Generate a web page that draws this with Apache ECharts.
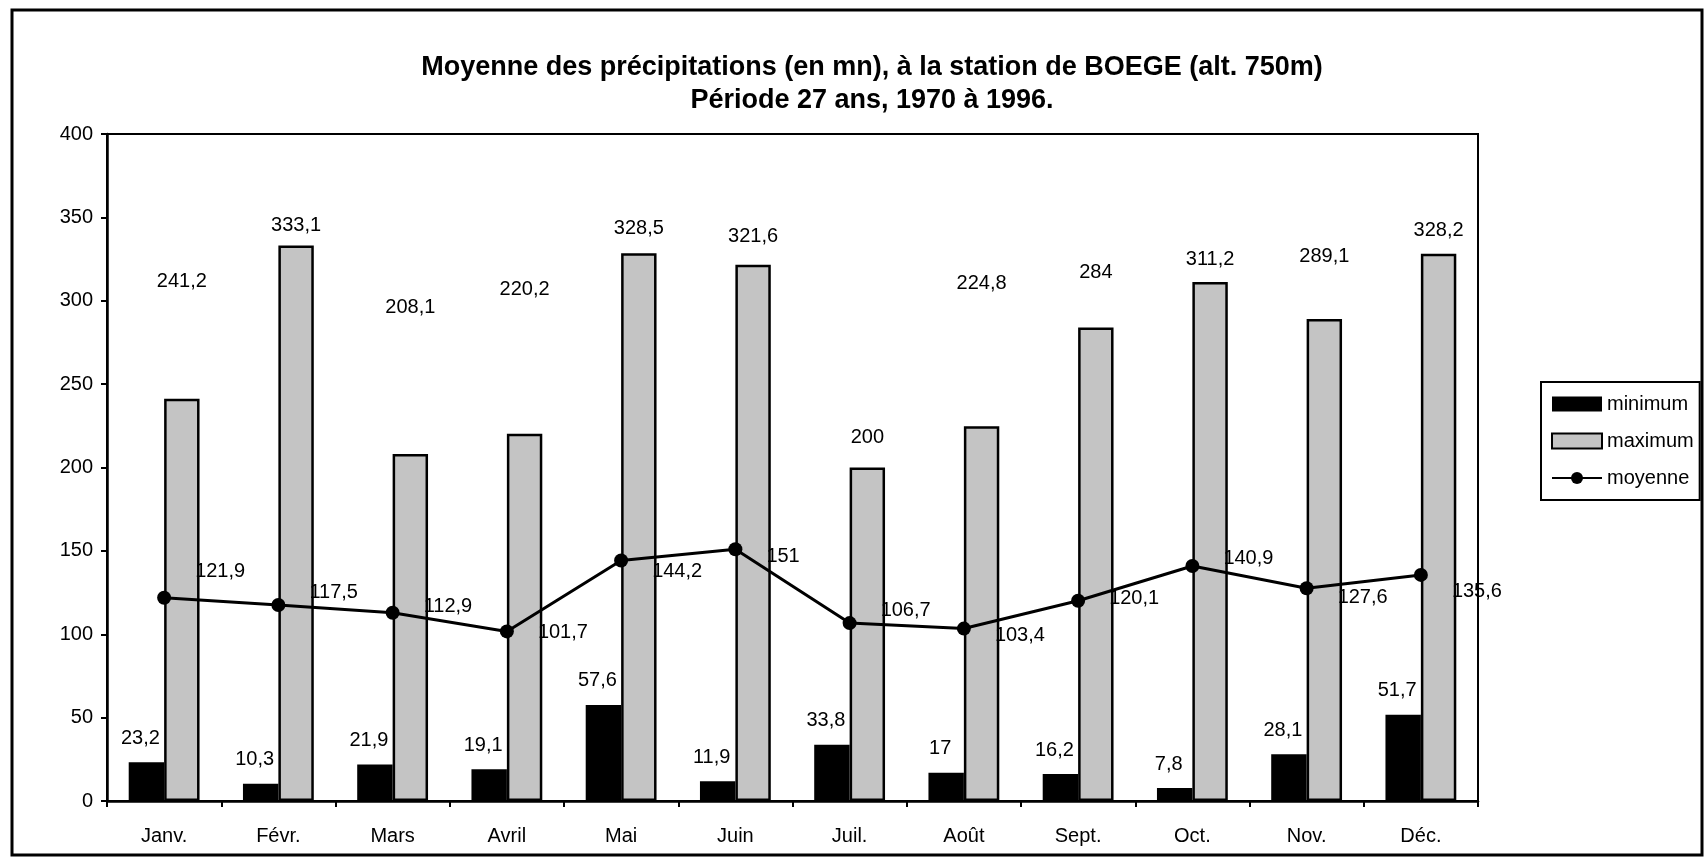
<!DOCTYPE html>
<html>
<head>
<meta charset="utf-8">
<title>Précipitations BOEGE</title>
<script src="https://cdn.jsdelivr.net/npm/echarts@6/dist/echarts.min.js"></script>
<style>
    html, body { margin: 0; padding: 0; background: #fff; }
    #chart { width: 1705px; height: 858px; }
</style>
</head>
<body>
<div id="chart"></div>
<script>
// mois
const months = ['Janv.', 'Févr.', 'Mars', 'Avril', 'Mai', 'Juin', 'Juil.', 'Août', 'Sept.', 'Oct.', 'Nov.', 'Déc.']
// précipitations (mn)
const minimum = [23.2, 10.3, 21.9, 19.1, 57.6, 11.9, 33.8, 17, 16.2, 7.8, 28.1, 51.7]
const maximum = [241.2, 333.1, 208.1, 220.2, 328.5, 321.6, 200, 224.8, 284, 311.2, 289.1, 328.2]
const moyenne = [121.9, 117.5, 112.9, 101.7, 144.2, 151, 106.7, 103.4, 120.1, 140.9, 127.6, 135.6]
const yTicks = [0, 50, 100, 150, 200, 250, 300, 350, 400]

// décalage des étiquettes (placées à la main sur l'original)
const maxLabelLift = [117, 20, 147, 144, 25, 28, 30, 143, 55, 23, 62, 23]
const moyLabelShift = [-26, -13, -6, 1, 11, 7, -13, 7, -2, -8, 9, 17]

const fr = v => String(v).replace('.', ',')
const FONT = 'Liberation Sans, Arial, sans-serif'

let chart = echarts.init(document.getElementById('chart'))

let maxData = []
for (let i = 0; i < maximum.length; i++) {
    maxData.push({
        value: maximum[i],
        label: { offset: [0, -(maxLabelLift[i] - 16)] }
    })
}
let moyData = []
for (let i = 0; i < moyenne.length; i++) {
    moyData.push({
        value: moyenne[i],
        label: { offset: [0, moyLabelShift[i]] }
    })
}

chart.setOption({
    animation: false,
    textStyle: { fontFamily: FONT, color: '#000' },
    title: {
        text: 'Moyenne des précipitations (en mn), à la station de BOEGE (alt. 750m)\nPériode 27 ans, 1970 à 1996.',
        left: 867,
        top: 46,
        textAlign: 'center',
        textStyle: { fontSize: 27, fontWeight: 'bold', lineHeight: 33, fontFamily: FONT, color: '#000' }
    },
    legend: {
        orient: 'vertical',
        left: 1541,
        top: 382,
        padding: [12, 6, 12, 10],
        itemGap: 17,
        itemWidth: 50,
        itemHeight: 15,
        borderColor: '#000',
        borderWidth: 2,
        textStyle: { fontSize: 20, color: '#000', fontFamily: FONT },
        data: [
            { name: 'minimum', icon: 'rect' },
            { name: 'maximum', icon: 'rect' },
            { name: 'moyenne' }
        ]
    },
    graphic: [{
        type: 'rect',
        shape: { x: 12, y: 10, width: 1690, height: 845 },
        style: { fill: 'none', stroke: '#000', lineWidth: 3 },
        silent: true
    }],
    grid: {
        left: 107,
        right: 227,
        top: 134,
        bottom: 57,
        show: true,
        borderColor: '#000',
        borderWidth: 2
    },
    xAxis: {
        type: 'category',
        data: months,
        axisLine: { lineStyle: { color: '#000', width: 2.5 } },
        axisTick: { show: true, length: 6, lineStyle: { color: '#000', width: 2 } },
        axisLabel: { fontSize: 20, margin: 25, color: '#000' }
    },
    yAxis: {
        type: 'value',
        min: yTicks[0],
        max: yTicks[yTicks.length - 1],
        interval: 50,
        splitLine: { show: false },
        axisLine: { show: true, lineStyle: { color: '#000', width: 2.5 } },
        axisTick: { show: true, length: 6, lineStyle: { color: '#000', width: 2 } },
        axisLabel: { fontSize: 20, margin: 14, color: '#000' }
    },
    series: [
        {
            name: 'minimum',
            type: 'bar',
            data: minimum,
            barWidth: '31%',
            barGap: '0%',
            itemStyle: { color: '#000' },
            label: {
                show: true,
                position: 'top',
                distance: 14,
                offset: [-6, 0],
                fontSize: 20,
                color: '#000',
                formatter: p => fr(p.value)
            }
        },
        {
            name: 'maximum',
            type: 'bar',
            data: maxData,
            barWidth: '31%',
            itemStyle: { color: '#c4c4c4', borderColor: '#000', borderWidth: 2.5 },
            label: {
                show: true,
                position: 'top',
                distance: 6,
                fontSize: 20,
                color: '#000',
                formatter: p => fr(p.value)
            }
        },
        {
            name: 'moyenne',
            type: 'line',
            data: moyData,
            symbol: 'circle',
            symbolSize: 14,
            itemStyle: { color: '#000' },
            lineStyle: { color: '#000', width: 3 },
            label: {
                show: true,
                position: 'right',
                distance: 24,
                fontSize: 20,
                color: '#000',
                formatter: p => fr(p.value)
            },
            z: 5
        }
    ]
})
</script>
</body>
</html>
